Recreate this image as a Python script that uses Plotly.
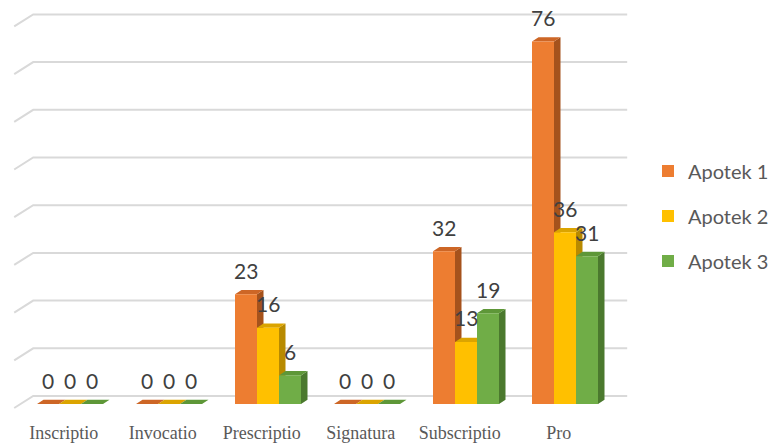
import plotly.graph_objects as go

# ---- data -------------------------------------------------------------
categories = ["Inscriptio", "Invocatio", "Prescriptio", "Signatura", "Subscriptio", "Pro"]
apotek_1 = [0, 0, 23, 0, 32, 76]
apotek_2 = [0, 0, 16, 0, 13, 36]
apotek_3 = [0, 0, 6, 0, 19, 31]
series_names = ["Apotek 1", "Apotek 2", "Apotek 3"]
grid_values = list(range(0, 81, 10))

series = [apotek_1, apotek_2, apotek_3]

# ---- styling ------------------------------------------------------------
front_colors = ["#ED7D31", "#FFC000", "#70AD47"]
top_colors = ["#CD6626", "#DBA400", "#5E9738"]
side_colors = ["#A5521C", "#B88A00", "#4B792E"]
grid_color = "#D9D9D9"
value_color = "#404040"
label_color = "#595959"

W, H = 772, 443
PX_CAT = 99.0      # horizontal pixels per category
PX_UNIT = 4.77     # vertical pixels per value unit
X0_PX = 70.0       # pixel of first category centre
Y0_PX = 404.0      # pixel of value 0 on the bar front plane
MARGIN_B = 31
plot_h = H - MARGIN_B

x_range = [(0 - X0_PX) / PX_CAT, (W - X0_PX) / PX_CAT]
y_range = [-(plot_h - Y0_PX) / PX_UNIT, Y0_PX / PX_UNIT]

# oblique-projection offsets (category units, value units)
bar_dx, bar_dy = 6.5 / PX_CAT, 4.3 / PX_UNIT
back_dx, back_dy = 12.7 / PX_CAT, 8.0 / PX_UNIT
floor_dx, floor_dy = -6.3 / PX_CAT, -4.0 / PX_UNIT

n_cat = len(categories)
n_ser = len(series)
bargap = 1 / 3
bar_w = (1 - bargap) / n_ser

fig = go.Figure()

# ---- walls: side-wall diagonals + back-wall gridlines -------------------
gx, gy = [], []
left_edge, right_edge = -0.5, n_cat - 0.5
for g in grid_values:
    gx += [left_edge + floor_dx, left_edge + back_dx, right_edge + back_dx, None]
    gy += [g + floor_dy, g + back_dy, g + back_dy, None]
fig.add_trace(go.Scatter(x=gx, y=gy, mode="lines",
                         line=dict(color=grid_color, width=2),
                         hoverinfo="skip", showlegend=False))

# ---- bar side and top faces (drawn under the bar fronts) ----------------
for k, vals in enumerate(series):
    sx, sy, tx, ty = [], [], [], []
    for i, v in enumerate(vals):
        c = i + (k - (n_ser - 1) / 2) * bar_w
        l, r = c - bar_w / 2, c + bar_w / 2
        sx += [r, r, r + bar_dx, r + bar_dx, r, None]
        sy += [0, v, v + bar_dy, bar_dy, 0, None]
        tx += [l, r, r + bar_dx, l + bar_dx, l, None]
        ty += [v, v, v + bar_dy, v + bar_dy, v, None]
    fig.add_trace(go.Scatter(x=sx, y=sy, mode="lines", fill="toself",
                             fillcolor=side_colors[k], line=dict(width=0),
                             hoverinfo="skip", showlegend=False))
    fig.add_trace(go.Scatter(x=tx, y=ty, mode="lines", fill="toself",
                             fillcolor=top_colors[k], line=dict(width=0),
                             hoverinfo="skip", showlegend=False))

# ---- bar fronts on an overlaid subplot so they sit above the faces ------
for k, vals in enumerate(series):
    fig.add_trace(go.Bar(x=list(range(n_cat)), y=vals, name=series_names[k],
                         marker=dict(color=front_colors[k], line=dict(width=0)),
                         xaxis="x2", yaxis="y2", legendgroup=series_names[k]))

# ---- value labels -------------------------------------------------------
for k, vals in enumerate(series):
    for i, v in enumerate(vals):
        c = i + (k - (n_ser - 1) / 2) * bar_w
        fig.add_annotation(x=c, y=v, xref="x", yref="y", text=str(v),
                           showarrow=False, yanchor="middle", yshift=24,
                           font=dict(family="Lato", size=21, color=value_color))

fig.update_layout(
    width=W, height=H,
    margin=dict(l=0, r=0, t=0, b=MARGIN_B, autoexpand=False),
    paper_bgcolor="white", plot_bgcolor="white",
    barmode="group", bargap=bargap, bargroupgap=0,
    showlegend=True,
    legend=dict(x=648 / W, xanchor="left", y=1 - 163 / H, yanchor="top",
                font=dict(family="Lato", size=20, color=label_color),
                tracegroupgap=16, bgcolor="rgba(0,0,0,0)"),
    xaxis=dict(range=x_range, tickmode="array",
               tickvals=[i + floor_dx for i in range(n_cat)],
               ticktext=categories, showgrid=False, zeroline=False,
               showline=False, ticks="outside", ticklen=4,
               tickcolor="rgba(0,0,0,0)",
               tickfont=dict(family="Liberation Serif", size=18, color=label_color)),
    yaxis=dict(range=y_range, visible=False),
    xaxis2=dict(range=x_range, overlaying="x", visible=False),
    yaxis2=dict(range=y_range, overlaying="y", visible=False),
)

fig.write_html("out.html")
